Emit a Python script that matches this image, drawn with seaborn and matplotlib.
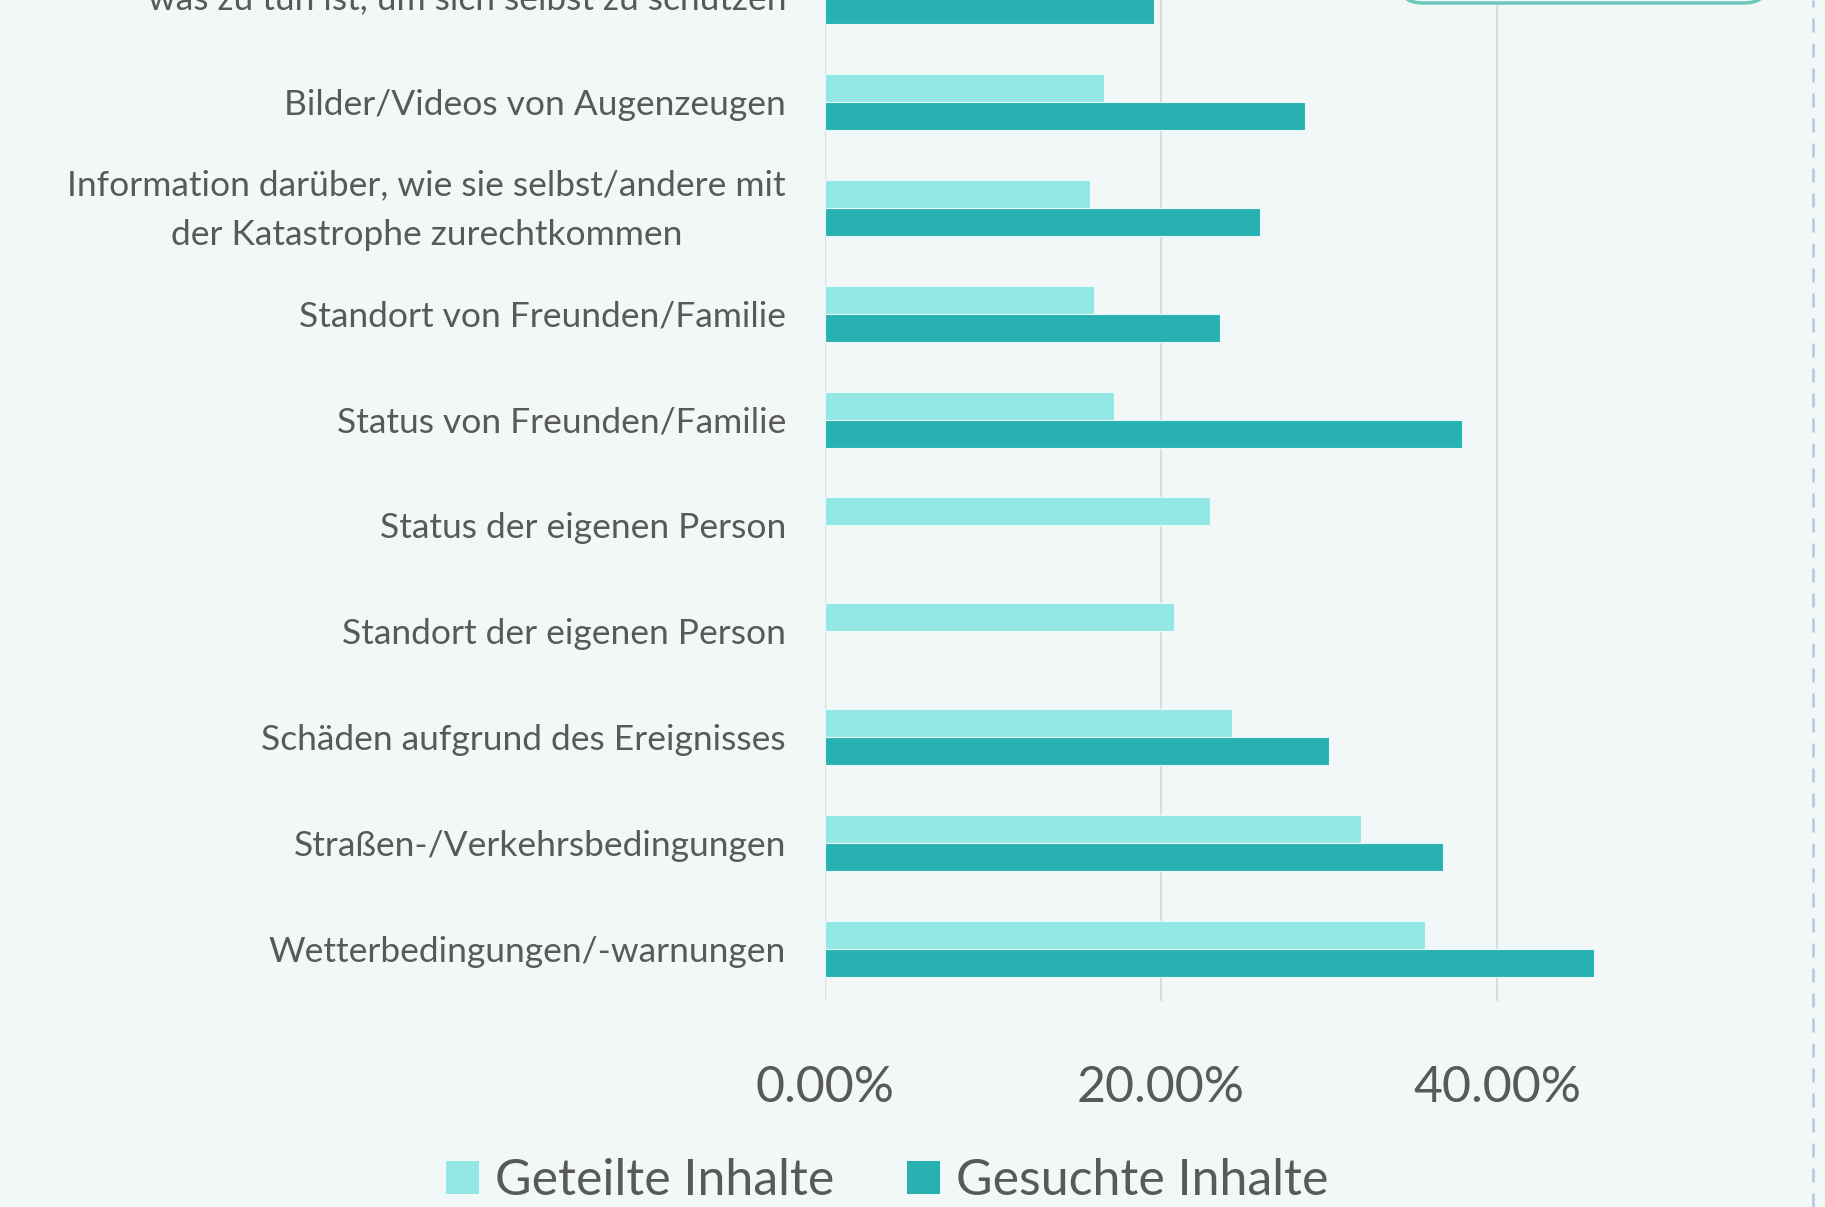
import pandas as pd
import numpy as np
import matplotlib.pyplot as plt
import seaborn as sns
from matplotlib.patches import FancyBboxPatch, Patch
from matplotlib.lines import Line2D
from matplotlib.transforms import ScaledTranslation

# Daten (von oben nach unten)
kategorien = [
    'was zu tun ist, um sich selbst zu schützen',
    'Bilder/Videos von Augenzeugen',
    'Information darüber, wie sie selbst/andere mit\nder Katastrophe zurechtkommen',
    'Standort von Freunden/Familie',
    'Status von Freunden/Familie',
    'Status der eigenen Person',
    'Standort der eigenen Person',
    'Schäden aufgrund des Ereignisses',
    'Straßen-/Verkehrsbedingungen',
    'Wetterbedingungen/-warnungen',
]
geteilt = [14.0, 16.6, 15.8, 16.0, 17.2, 22.9, 20.8, 24.2, 31.9, 35.7]
gesucht = [19.6, 28.6, 25.9, 23.5, 37.9, np.nan, np.nan, 30.0, 36.8, 45.8]
serien = ['Geteilte Inhalte', 'Gesuchte Inhalte']
farben = ['#93E7E5', '#27B2B1']
x_ticks = [0, 20, 40]

df = pd.DataFrame({'Kategorie': kategorien, serien[0]: geteilt, serien[1]: gesucht})
df = df.melt(id_vars='Kategorie', var_name='Serie', value_name='Wert').dropna()

bg = '#F2F8F8'
textfarbe = '#595959'

sns.set_theme(style='white')
plt.rcParams['font.family'] = ['Lato', 'DejaVu Sans']

fig = plt.figure(figsize=(18.25, 12.07), dpi=100, facecolor=bg)
ax = fig.add_axes([825 / 1825, 0.1703, 1008 / 1825, 0.8765])
ax.set_facecolor(bg)

sns.barplot(data=df, y='Kategorie', x='Wert', hue='Serie', order=kategorien,
            hue_order=serien, palette=farben, width=0.53, errorbar=None,
            orient='h', ax=ax, legend=False, edgecolor='#E8FAFA', linewidth=0.8,
            saturation=1)

ax.set_xlim(0, 60)
ax.set_ylim(9.5, -0.5)
ax.set_xticks(x_ticks)
ax.set_xticklabels([f'{v:.2f}%' for v in x_ticks])
ax.xaxis.grid(True, color='#D9DDDE', linewidth=1.6)
ax.set_axisbelow(True)
for s in ax.spines.values():
    s.set_visible(False)
ax.set_xlabel('')
ax.set_ylabel('')
ax.tick_params(axis='x', length=0, pad=46, labelsize=36, labelcolor=textfarbe)
ax.tick_params(axis='y', length=0, pad=28, labelsize=25.5, labelcolor=textfarbe)
for lbl in ax.get_yticklabels():
    lbl.set_multialignment('center')
    lbl.set_linespacing(1.7)
    if '\n' in lbl.get_text():
        # mehrzeilige Beschriftung etwas nach oben
        lbl.set_transform(lbl.get_transform() + ScaledTranslation(0, 0.1, fig.dpi_scale_trans))

# Legende
handles = [Patch(facecolor=c, edgecolor='none') for c in farben]
fig.legend(handles, serien, loc='center', bbox_to_anchor=(0.486, 0.0215), ncol=2,
           frameon=False, fontsize=36, labelcolor=textfarbe, handlelength=0.66,
           handleheight=0.66, handletextpad=0.32, columnspacing=1.45)

# Rahmen-Elemente des Ausschnitts
fig.add_artist(Line2D([1813 / 1825, 1813 / 1825], [0, 1], color='#B7C9E6',
                      linewidth=2, linestyle=(0, (5, 4)), transform=fig.transFigure))
fig.add_artist(FancyBboxPatch((1402 / 1825, 1204 / 1207), 363 / 1825, 0.05,
                              boxstyle='round,pad=0,rounding_size=0.012',
                              facecolor=bg, edgecolor='#6CC7B8', linewidth=2.5,
                              transform=fig.transFigure))

fig.savefig('out.png', dpi=100, facecolor=bg)
